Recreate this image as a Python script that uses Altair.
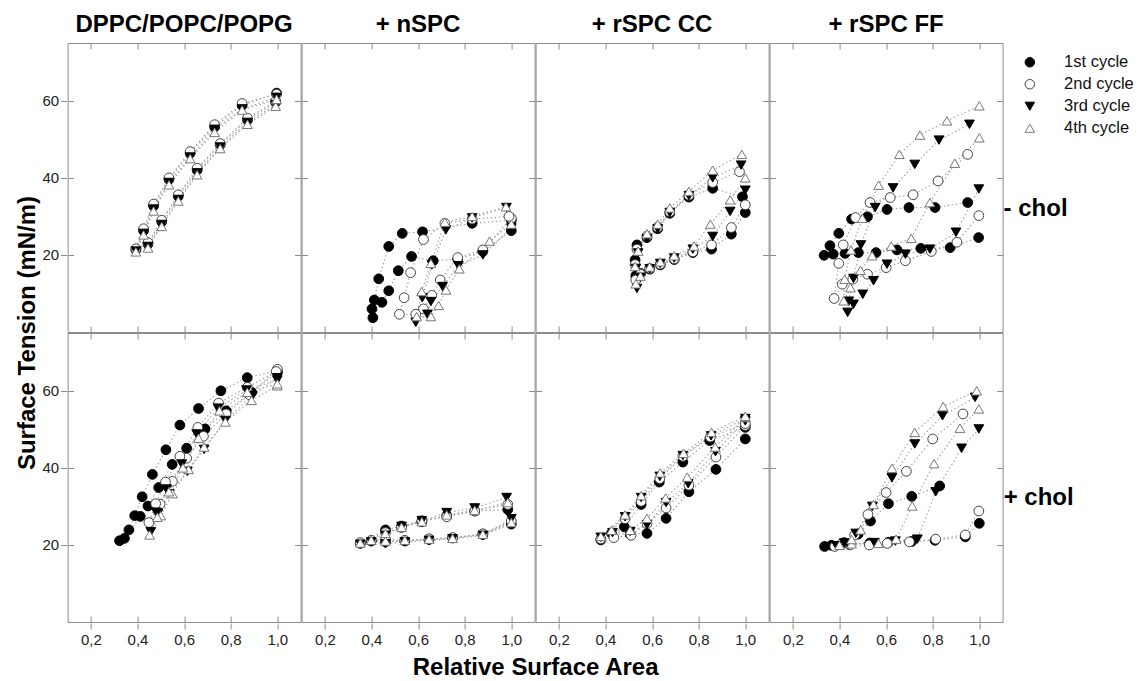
import altair as alt
import pandas as pd

COMPOUNDS = ["DPPC/POPC/POPG", "+ nSPC", "+ rSPC CC", "+ rSPC FF"]
CHOL = ["- chol", "+ chol"]
CYCLES = ["1st cycle", "2nd cycle", "3rd cycle", "4th cycle"]
X_TICKS = [0.2, 0.4, 0.6, 0.8, 1.0]
Y_TICKS = [20, 40, 60]

# ---- DPPC/POPC/POPG, - chol
dppc_m_1 = [(0.993, 59.6), (0.872, 55.0), (0.755, 48.6), (0.656, 42.0), (0.575, 35.2), (0.504, 28.6), (0.445, 22.8),
            (0.393, 21.3), (0.426, 26.3), (0.469, 32.7), (0.535, 39.6), (0.626, 46.4), (0.731, 53.2), (0.849, 58.8), (0.997, 62.0)]
dppc_m_2 = [(0.993, 59.9), (0.872, 55.5), (0.755, 48.9), (0.656, 42.5), (0.575, 35.6), (0.504, 29.0), (0.445, 23.2),
            (0.393, 21.6), (0.426, 26.8), (0.469, 33.2), (0.535, 40.0), (0.626, 46.8), (0.731, 53.8), (0.849, 59.3), (0.997, 61.7)]
dppc_m_3 = [(0.993, 59.0), (0.872, 54.4), (0.755, 48.0), (0.656, 41.3), (0.575, 34.4), (0.504, 27.9), (0.445, 22.2),
            (0.393, 21.0), (0.426, 25.6), (0.469, 31.9), (0.535, 38.8), (0.626, 45.4), (0.731, 52.6), (0.849, 57.9), (0.997, 60.9)]
dppc_m_4 = [(0.993, 58.6), (0.872, 53.9), (0.755, 47.6), (0.656, 40.8), (0.575, 34.0), (0.504, 27.4), (0.445, 21.8),
            (0.393, 20.8), (0.426, 25.2), (0.469, 31.4), (0.535, 38.2), (0.626, 45.0), (0.731, 51.8), (0.849, 57.6), (0.997, 60.4)]

# ---- + nSPC, - chol
nspc_m_1 = [(1.0, 26.3), (0.878, 20.9), (0.77, 18.9), (0.665, 18.5), (0.572, 19.6), (0.515, 15.9), (0.474, 10.7), (0.445, 7.7), (0.406, 3.7),
            (0.402, 6.0), (0.412, 8.3), (0.431, 13.8), (0.474, 22.2), (0.532, 25.6), (0.619, 26.0), (0.832, 28.2), (1.0, 29.0)]
nspc_m_2 = [(1.0, 29.5), (0.878, 21.3), (0.77, 19.3), (0.695, 13.5), (0.659, 9.5), (0.623, 6.0), (0.59, 4.6), (0.52, 4.6),
            (0.54, 8.9), (0.568, 15.4), (0.623, 24.0), (0.715, 28.2), (0.832, 29.3), (0.99, 30.0)]
nspc_m_3 = [(1.0, 27.0), (0.878, 20.0), (0.773, 17.2), (0.705, 11.8), (0.655, 7.9), (0.64, 4.6), (0.59, 2.5),
            (0.618, 8.9), (0.659, 17.4), (0.719, 26.5), (0.832, 29.6), (0.979, 32.3)]
nspc_m_4 = [(1.0, 28.0), (0.907, 23.6), (0.777, 16.4), (0.72, 10.9), (0.688, 6.9), (0.655, 4.0), (0.594, 4.0),
            (0.615, 10.5), (0.655, 17.8), (0.715, 28.5), (0.832, 30.0), (0.977, 32.5)]

# ---- + rSPC CC, - chol
rcc_m_1 = [(1.0, 31.0), (0.94, 25.4), (0.855, 21.5), (0.775, 20.6), (0.695, 18.8), (0.635, 17.4), (0.59, 16.3), (0.55, 15.2), (0.53, 14.6),
           (0.527, 18.7), (0.535, 22.6), (0.578, 24.5), (0.624, 26.8), (0.676, 30.8), (0.758, 35.0), (0.86, 37.3), (0.988, 35.1)]
rcc_m_2 = [(1.0, 33.0), (0.94, 27.1), (0.855, 22.6), (0.775, 20.8), (0.695, 19.0), (0.635, 17.6), (0.59, 16.5), (0.55, 15.0), (0.53, 13.5),
           (0.527, 17.5), (0.535, 21.5), (0.578, 24.9), (0.624, 27.2), (0.676, 31.2), (0.758, 35.5), (0.86, 38.8), (0.975, 41.6)]
rcc_m_3 = [(1.0, 36.8), (0.935, 31.3), (0.86, 24.8), (0.775, 21.5), (0.695, 19.2), (0.635, 17.8), (0.59, 16.4), (0.55, 14.2), (0.535, 11.3),
           (0.53, 16.5), (0.54, 20.5), (0.578, 24.2), (0.624, 26.8), (0.676, 31.0), (0.758, 35.4), (0.86, 40.0), (0.982, 43.3)]
rcc_m_4 = [(1.0, 40.0), (0.935, 34.3), (0.85, 28.0), (0.78, 22.3), (0.695, 19.8), (0.635, 18.2), (0.59, 16.9), (0.55, 14.5), (0.53, 12.5),
           (0.527, 17.0), (0.54, 21.0), (0.578, 25.5), (0.624, 28.0), (0.676, 32.2), (0.758, 36.5), (0.86, 42.0), (0.985, 46.1)]

# ---- + rSPC FF, - chol
rff_m_1 = [(0.997, 24.5), (0.875, 21.9), (0.749, 21.7), (0.647, 21.3), (0.557, 20.6), (0.481, 20.6), (0.424, 20.4), (0.373, 20.2), (0.334, 19.9),
           (0.359, 22.4), (0.397, 25.6), (0.452, 29.3), (0.52, 29.9), (0.604, 31.8), (0.698, 32.3), (0.81, 32.3), (0.95, 33.6)]
rff_m_2 = [(0.998, 30.2), (0.904, 23.3), (0.794, 20.9), (0.683, 18.5), (0.6, 16.7), (0.52, 15.0), (0.457, 13.7), (0.412, 12.4), (0.377, 8.7),
           (0.397, 17.8), (0.416, 22.6), (0.469, 29.7), (0.531, 33.6), (0.618, 34.9), (0.716, 35.6), (0.823, 39.2), (0.95, 46.1)]
rff_m_3 = [(0.998, 37.1), (0.9, 25.9), (0.788, 21.5), (0.683, 20.2), (0.604, 17.6), (0.546, 13.3), (0.5, 9.8), (0.46, 7.2), (0.435, 5.1),
           (0.44, 8.0), (0.46, 13.9), (0.492, 22.6), (0.553, 32.3), (0.63, 37.4), (0.723, 43.5), (0.827, 49.8), (0.958, 53.9)]
rff_m_4 = [(1.0, 50.4), (0.895, 43.8), (0.788, 33.6), (0.708, 24.3), (0.622, 22.3), (0.54, 19.8), (0.49, 16.0), (0.447, 11.5), (0.418, 8.1),
           (0.422, 13.7), (0.449, 21.3), (0.498, 29.5), (0.568, 38.1), (0.657, 46.1), (0.745, 51.1), (0.861, 54.8), (1.0, 58.7)]

# ---- DPPC/POPC/POPG, + chol
dppc_p_1 = [(1.0, 64.8), (0.89, 59.6), (0.781, 54.8), (0.69, 50.1), (0.611, 45.1), (0.549, 40.9), (0.491, 34.9), (0.445, 30.1), (0.412, 27.4), (0.344, 21.7),
            (0.323, 21.1), (0.363, 23.9), (0.388, 27.6), (0.42, 32.5), (0.464, 38.3), (0.522, 44.7), (0.582, 51.1), (0.662, 55.4), (0.758, 60.0), (0.871, 63.4), (1.0, 65.2)]
dppc_p_2 = [(1.0, 65.6), (0.88, 59.0), (0.78, 54.0), (0.683, 48.2), (0.611, 42.5), (0.55, 36.5), (0.497, 30.6), (0.449, 25.8),
            (0.478, 30.7), (0.52, 36.3), (0.582, 43.0), (0.659, 50.5), (0.748, 56.8), (0.871, 60.9), (0.995, 65.0)]
dppc_p_3 = [(1.0, 63.4), (0.893, 58.7), (0.777, 52.3), (0.686, 44.8), (0.614, 39.1), (0.536, 33.3), (0.488, 28.2), (0.457, 23.4),
            (0.48, 28.5), (0.525, 34.5), (0.59, 41.0), (0.654, 48.8), (0.745, 55.5), (0.868, 60.2), (1.0, 62.8)]
dppc_p_4 = [(1.0, 61.3), (0.89, 57.5), (0.777, 51.9), (0.686, 45.4), (0.619, 39.6), (0.55, 33.3), (0.5, 27.6), (0.452, 22.6),
            (0.485, 27.2), (0.535, 33.8), (0.595, 40.0), (0.662, 47.7), (0.752, 54.8), (0.871, 59.6), (1.0, 61.8)]

# ---- + nSPC, + chol
nspc_p_1 = [(1.0, 25.4), (0.878, 22.7), (0.748, 21.8), (0.647, 21.4), (0.543, 21.0), (0.46, 20.8), (0.399, 21.0), (0.352, 20.4),
            (0.46, 23.9), (0.529, 24.9), (0.616, 26.0), (0.723, 27.6), (0.843, 28.8), (0.985, 29.2)]
nspc_p_2 = [(1.0, 26.2), (0.878, 22.9), (0.748, 21.9), (0.647, 21.6), (0.543, 21.2), (0.46, 21.4), (0.399, 21.2), (0.352, 20.6),
            (0.46, 23.2), (0.529, 24.5), (0.616, 26.3), (0.723, 27.3), (0.843, 28.8), (0.985, 30.5)]
nspc_p_3 = [(1.0, 26.8), (0.878, 22.5), (0.748, 21.6), (0.647, 21.2), (0.543, 20.8), (0.46, 20.3), (0.399, 20.8), (0.352, 20.2),
            (0.46, 22.5), (0.529, 24.8), (0.616, 26.3), (0.723, 28.4), (0.843, 29.6), (0.98, 32.3)]
nspc_p_4 = [(1.0, 25.8), (0.878, 22.8), (0.748, 21.7), (0.647, 21.5), (0.543, 21.2), (0.46, 21.0), (0.399, 21.2), (0.352, 20.5),
            (0.46, 23.0), (0.529, 24.6), (0.616, 26.0), (0.723, 27.8), (0.843, 29.0), (0.985, 31.0)]

# ---- + rSPC CC, + chol
rcc_p_1 = [(1.0, 47.5), (0.874, 39.6), (0.758, 33.8), (0.66, 26.9), (0.578, 23.0), (0.506, 22.7), (0.426, 23.0), (0.38, 21.3),
           (0.481, 24.7), (0.553, 30.5), (0.631, 36.3), (0.732, 41.5), (0.847, 47.1), (1.0, 50.5)]
rcc_p_2 = [(1.0, 51.0), (0.874, 42.8), (0.758, 35.5), (0.66, 29.6), (0.578, 25.5), (0.51, 22.5), (0.436, 21.9), (0.38, 21.6),
           (0.484, 26.8), (0.553, 31.3), (0.633, 37.2), (0.732, 43.0), (0.85, 48.0), (1.0, 51.5)]
rcc_p_3 = [(1.0, 52.2), (0.872, 44.2), (0.755, 35.9), (0.66, 31.0), (0.578, 25.2), (0.506, 23.5), (0.43, 23.2), (0.38, 22.0),
           (0.484, 27.3), (0.553, 32.3), (0.633, 37.8), (0.732, 43.2), (0.853, 48.3), (1.0, 52.8)]
rcc_p_4 = [(1.0, 53.1), (0.871, 45.4), (0.751, 37.6), (0.658, 32.2), (0.578, 26.9), (0.506, 23.8), (0.426, 23.8), (0.38, 22.2),
           (0.484, 27.8), (0.553, 32.8), (0.635, 38.7), (0.735, 43.8), (0.855, 49.2), (1.0, 53.4)]

# ---- + rSPC FF, + chol
rff_p_1 = [(1.0, 25.6), (0.94, 22.1), (0.81, 21.2), (0.71, 20.9), (0.61, 20.7), (0.53, 20.5), (0.44, 20.2), (0.365, 19.9), (0.336, 19.6),
           (0.42, 20.6), (0.48, 22.8), (0.533, 26.2), (0.61, 30.7), (0.71, 32.6), (0.83, 35.3)]
rff_p_2 = [(0.998, 28.8), (0.94, 22.6), (0.813, 21.5), (0.7, 20.8), (0.605, 20.4), (0.528, 20.0), (0.445, 20.0), (0.38, 19.6),
           (0.41, 20.3), (0.465, 22.6), (0.522, 27.9), (0.6, 33.6), (0.687, 39.1), (0.8, 47.5), (0.93, 54.0)]
rff_p_3 = [(0.998, 50.1), (0.924, 45.1), (0.813, 33.8), (0.734, 21.5), (0.64, 21.0), (0.55, 20.6), (0.437, 20.1), (0.387, 19.8),
           (0.42, 20.5), (0.47, 23.0), (0.541, 30.0), (0.625, 37.4), (0.723, 46.2), (0.842, 53.5), (0.982, 58.3)]
rff_p_4 = [(0.998, 55.3), (0.917, 50.3), (0.806, 41.1), (0.712, 30.1), (0.643, 21.5), (0.567, 20.4), (0.452, 20.3), (0.4, 19.9),
           (0.452, 21.4), (0.491, 23.9), (0.546, 30.5), (0.625, 39.9), (0.723, 49.2), (0.845, 55.9), (0.989, 60.0)]

PANELS = [
    ("DPPC/POPC/POPG", "- chol", [dppc_m_1, dppc_m_2, dppc_m_3, dppc_m_4]),
    ("+ nSPC", "- chol", [nspc_m_1, nspc_m_2, nspc_m_3, nspc_m_4]),
    ("+ rSPC CC", "- chol", [rcc_m_1, rcc_m_2, rcc_m_3, rcc_m_4]),
    ("+ rSPC FF", "- chol", [rff_m_1, rff_m_2, rff_m_3, rff_m_4]),
    ("DPPC/POPC/POPG", "+ chol", [dppc_p_1, dppc_p_2, dppc_p_3, dppc_p_4]),
    ("+ nSPC", "+ chol", [nspc_p_1, nspc_p_2, nspc_p_3, nspc_p_4]),
    ("+ rSPC CC", "+ chol", [rcc_p_1, rcc_p_2, rcc_p_3, rcc_p_4]),
    ("+ rSPC FF", "+ chol", [rff_p_1, rff_p_2, rff_p_3, rff_p_4]),
]

rows = []
for comp, chol, cycles in PANELS:
    for ci, pts in enumerate(cycles):
        for k, (xv, yv) in enumerate(pts):
            rows.append({"comp": comp, "chol": chol, "cycle": CYCLES[ci], "ci": ci,
                         "ord": k, "area": xv, "tension": yv})
df = pd.DataFrame(rows)

FONT = "Liberation Sans"
W, H = 233, 289
TICK = 6
FRAME = "#8c8c8c"

leg = alt.Legend(title=None, orient="none", legendX=954, legendY=11,
                 labelFont=FONT, labelFontSize=16.5, labelColor="#111", labelLimit=200,
                 symbolSize=90, symbolStrokeWidth=1, rowPadding=5, labelOffset=26)

base = alt.Chart().encode(
    x=alt.X("area:Q", scale=alt.Scale(domain=[0.1, 1.1], nice=False, zero=False),
            axis=alt.Axis(values=X_TICKS, title=None, labelPadding=4,
                          grid=True, gridColor=FRAME, gridWidth=1, gridDash=[TICK, H - 2 * TICK, TICK, 2000],
                          labelExpr="replace(format(datum.value, '.1f'), '.', ',')")),
    y=alt.Y("tension:Q", scale=alt.Scale(domain=[0, 75], nice=False, zero=False),
            axis=alt.Axis(values=Y_TICKS, title=None, labelPadding=2,
                          grid=True, gridColor=FRAME, gridWidth=1, gridDash=[TICK, W - 2 * TICK, TICK, 2000])),
)

lines = base.mark_line(color="#a0a0a0", strokeDash=[1.5, 2.5], strokeWidth=1.1).encode(
    detail="cycle:N", order="ord:Q")

points = base.mark_point(filled=True, size=95, opacity=1, strokeWidth=1).encode(
    shape=alt.Shape("cycle:N", scale=alt.Scale(domain=CYCLES, range=["circle", "circle", "triangle-down", "triangle-up"]), legend=leg),
    fill=alt.Fill("cycle:N", scale=alt.Scale(domain=CYCLES, range=["#000000", "#ffffff", "#000000", "#ffffff"]), legend=leg),
    stroke=alt.Stroke("cycle:N", scale=alt.Scale(domain=CYCLES, range=["#000000", "#444444", "#000000", "#777777"]), legend=leg),
    order=alt.Order("ci:Q"),
)

chart = alt.layer(lines, points, data=df).properties(width=W, height=H).facet(
    column=alt.Column("comp:N", sort=COMPOUNDS, title="Relative Surface Area",
                      header=alt.Header(labelOrient="top", titleOrient="bottom",
                                        labelFont=FONT, labelFontSize=24, labelFontWeight="bold", labelColor="#000",
                                        labelPadding=5,
                                        titleFont=FONT, titleFontSize=24, titleFontWeight="bold", titleColor="#000",
                                        titlePadding=-2)),
    row=alt.Row("chol:N", sort=CHOL, title="Surface Tension (mN/m)",
                header=alt.Header(labelOrient="right", titleOrient="left", labelAngle=0, labelAlign="right",
                                  labelBaseline="line-top", labelLineHeight=42,
                                  labelFont=FONT, labelFontSize=24, labelFontWeight="bold", labelColor="#000",
                                  labelPadding=0,
                                  titleFont=FONT, titleFontSize=24, titleFontWeight="bold", titleColor="#000",
                                  titlePadding=-8)),
    spacing=-1,
).configure_view(stroke=FRAME, strokeWidth=1).configure_axis(
    labelFont=FONT, labelFontSize=15, labelColor="#222", tickColor=FRAME, tickSize=TICK,
    domain=False,
).properties(padding={"left": 6.6, "top": 5, "right": 0, "bottom": 4})

chart.save("out.html", embed_options={"renderer": "svg", "actions": False})
